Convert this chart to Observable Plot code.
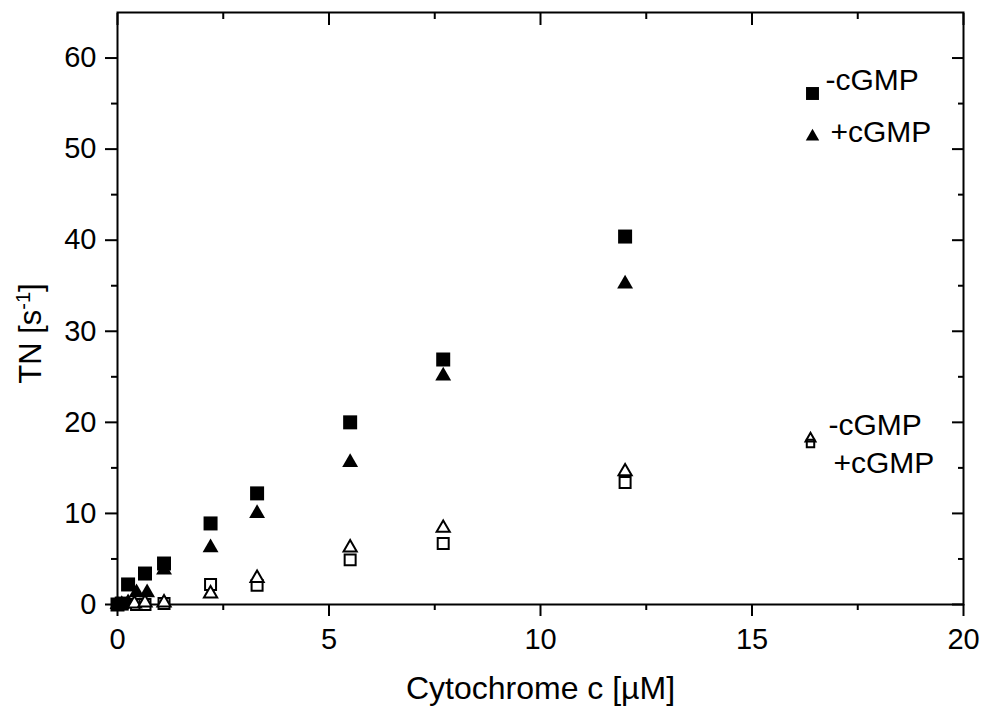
<!DOCTYPE html>
<html>
<head>
<meta charset="utf-8">
<script src="https://cdn.jsdelivr.net/npm/d3@7"></script>
<script src="https://cdn.jsdelivr.net/npm/@observablehq/plot@0.6"></script>
<style>
  html, body { margin: 0; padding: 0; background: white; }
  #chart { width: 986px; height: 710px; }
</style>
</head>
<body>
<div id="chart"></div>
<script>
// ---- data ----
const sqFilledX = [0, 0.1, 0.25, 0.65, 1.1, 2.2, 3.3, 5.5, 7.7, 12];
const sqFilledY = [0, 0.1, 2.2, 3.4, 4.5, 8.9, 12.2, 20.0, 26.9, 40.4];
const triFilledX = [0, 0.1, 0.25, 0.45, 0.7, 1.1, 2.2, 3.3, 5.5, 7.7, 12];
const triFilledY = [0, 0, 0.2, 1.3, 1.3, 3.8, 6.25, 10.0, 15.6, 25.1, 35.2];
const sqOpenX = [0.45, 0.65, 1.1, 2.2, 3.3, 5.5, 7.7, 12];
const sqOpenY = [0, 0, 0.1, 2.2, 2.1, 4.9, 6.7, 13.4];
const triOpenX = [0.4, 0.65, 1.1, 2.2, 3.3, 5.5, 7.7, 12];
const triOpenY = [0.1, 0.2, 0.2, 1.2, 2.9, 6.25, 8.4, 14.6];
const xMajor = [0, 5, 10, 15, 20];
const xMinor = [2.5, 7.5, 12.5, 17.5];
const yMajor = [0, 10, 20, 30, 40, 50, 60];
const yMinor = [5, 15, 25, 35, 45, 55];
const legendFilled = ["-cGMP", "+cGMP"];
const legendOpen = ["-cGMP", "+cGMP"];
const xTitle = "Cytochrome c [\u00B5M]";
const yTitle = "TN [s-1]";

const zip = (xs, ys) => xs.map((x, i) => ({x, y: ys[i]}));
const font = "'Liberation Sans', Arial, sans-serif";
const fsTick = 29;
const fsLeg = 30;
const fsTitle = 31;
const blank = () => "";

const chart = Plot.plot({
  width: 986,
  height: 710,
  marginLeft: 117,
  marginRight: 23,
  marginTop: 12,
  marginBottom: 106,
  style: {fontFamily: font, fontSize: fsTick + "px", background: "white", color: "black", overflow: "visible"},
  x: {domain: [0, 20]},
  y: {domain: [0, 65]},
  marks: [
    // bottom axis
    Plot.axisX({ticks: xMajor, tickSize: 12, tickPadding: 12, strokeWidth: 2, fontSize: fsTick, label: null, tickFormat: d => d}),
    Plot.axisX({ticks: xMinor, tickSize: 6, strokeWidth: 2, tickFormat: blank, label: null}),
    // top axis (inward ticks)
    Plot.axisX({anchor: "top", ticks: xMajor, tickSize: 12, insetTop: 12, strokeWidth: 2, tickFormat: blank, label: null}),
    Plot.axisX({anchor: "top", ticks: xMinor, tickSize: 6, insetTop: 6, strokeWidth: 2, tickFormat: blank, label: null}),
    // left axis
    Plot.axisY({ticks: yMajor, tickSize: 12, tickPadding: 9, strokeWidth: 2, fontSize: fsTick, label: null, tickFormat: d => d}),
    Plot.axisY({ticks: yMinor, tickSize: 6, strokeWidth: 2, tickFormat: blank, label: null}),
    // right axis (inward ticks)
    Plot.axisY({anchor: "right", ticks: yMajor, tickSize: 12, insetRight: 12, strokeWidth: 2, tickFormat: blank, label: null}),
    Plot.axisY({anchor: "right", ticks: yMinor, tickSize: 6, insetRight: 6, strokeWidth: 2, tickFormat: blank, label: null}),
    Plot.frame({stroke: "black", strokeWidth: 2}),
    // axis titles
    Plot.text([xTitle], {frameAnchor: "bottom", dy: 84, text: d => d, textAnchor: "middle", lineAnchor: "middle", fontSize: 32, fill: "black"}),
    Plot.text([yTitle], {frameAnchor: "left", dx: -86, dy: 25, rotate: -90, text: d => d, textAnchor: "middle", lineAnchor: "middle", fontSize: fsTitle, fill: "black"}),
    // data
    Plot.dot(zip(sqFilledX, sqFilledY), {x: "x", y: "y", symbol: "square", fill: "black", r: 7.9}),
    Plot.dot(zip(triFilledX, triFilledY), {x: "x", y: "y", symbol: "triangle", fill: "black", r: 5.9}),
    Plot.dot(zip(sqOpenX, sqOpenY), {x: "x", y: "y", symbol: "square", fill: "white", stroke: "black", strokeWidth: 2, r: 6.2}),
    Plot.dot(zip(triOpenX, triOpenY), {x: "x", y: "y", symbol: "triangle", fill: "white", stroke: "black", strokeWidth: 2, r: 4.9}),
    // legend, filled symbols
    Plot.dot([legendFilled[0]], {frameAnchor: "top-right", dx: -151, dy: 81, symbol: "square", fill: "black", r: 7.3}),
    Plot.dot([legendFilled[1]], {frameAnchor: "top-right", dx: -151, dy: 124, symbol: "triangle", fill: "black", r: 5}),
    Plot.text([legendFilled[0]], {frameAnchor: "top-right", dx: -138, dy: 68, text: d => d, textAnchor: "start", lineAnchor: "middle", fontSize: fsLeg, fill: "black"}),
    Plot.text([legendFilled[1]], {frameAnchor: "top-right", dx: -133, dy: 120, text: d => d, textAnchor: "start", lineAnchor: "middle", fontSize: fsLeg, fill: "black"}),
    // legend, open symbols
    Plot.dot([legendOpen[0]], {frameAnchor: "top-right", dx: -153, dy: 431, symbol: "square", fill: "white", stroke: "black", strokeWidth: 2, r: 4.2}),
    Plot.dot([legendOpen[1]], {frameAnchor: "top-right", dx: -153, dy: 426, symbol: "triangle", fill: "none", stroke: "black", strokeWidth: 2, r: 3.7}),
    Plot.text([legendOpen[0]], {frameAnchor: "top-right", dx: -135, dy: 413, text: d => d, textAnchor: "start", lineAnchor: "middle", fontSize: fsLeg, fill: "black"}),
    Plot.text([legendOpen[1]], {frameAnchor: "top-right", dx: -130, dy: 451, text: d => d, textAnchor: "start", lineAnchor: "middle", fontSize: fsLeg, fill: "black"})
  ]
});

// superscript in the y title
chart.querySelectorAll("text").forEach(t => {
  if (t.textContent === yTitle) {
    const tspanNodes = t.querySelectorAll("tspan");
    const target = tspanNodes.length ? tspanNodes[0] : t;
    target.textContent = "TN [s";
    const sup = document.createElementNS("http://www.w3.org/2000/svg", "tspan");
    sup.setAttribute("baseline-shift", "super");
    sup.setAttribute("font-size", "20");
    sup.textContent = "-1";
    target.appendChild(sup);
    const close = document.createElementNS("http://www.w3.org/2000/svg", "tspan");
    close.textContent = "]";
    target.appendChild(close);
  }
});

document.getElementById("chart").appendChild(chart);
</script>
</body>
</html>
